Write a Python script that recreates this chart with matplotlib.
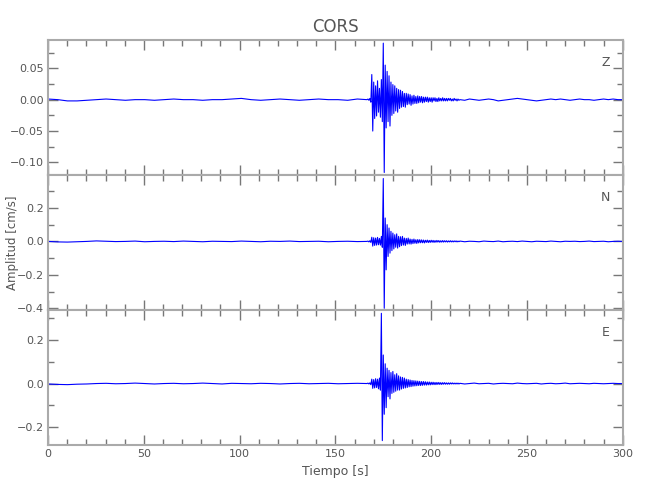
import numpy as np
import matplotlib.pyplot as plt
from matplotlib.ticker import MultipleLocator, FuncFormatter

# --- datos leidos del sismograma (cm/s) ---
# tramo previo (0-166.5 s), evento (167-214.5 s cada 0.5 s), tramo final (215-300 s)
z_pre = [0.001, 0.000, -0.002, -0.002, -0.001, 0.000, 0.001, 0.000, -0.001, 0.000,
         0.000, -0.001, 0.000, 0.001, 0.000, 0.000, -0.001, 0.000, 0.000, 0.001,
         0.002, 0.000, -0.001, 0.000, 0.001, 0.000, -0.001, 0.000, 0.001, 0.000,
         0.000, -0.001, 0.001, 0.000]
z_evt = [0.001, -0.001, 0.002, -0.004, 0.040, -0.050, 0.028, -0.030, 0.022, -0.026,
         0.030, -0.020, 0.018, -0.028, 0.032, -0.035, 0.090, -0.116, 0.055, -0.045,
         0.045, -0.035, 0.038, -0.042, 0.028, -0.025, 0.024, -0.022, 0.022, -0.018,
         0.018, -0.020, 0.016, -0.014, 0.015, -0.012, 0.013, -0.011, 0.010, -0.012,
         0.010, -0.008, 0.009, -0.007, 0.008, -0.009, 0.006, -0.007, 0.007, -0.006,
         0.005, -0.006, 0.006, -0.005, 0.005, -0.004, 0.005, -0.005, 0.004, -0.004,
         0.004, -0.003, 0.004, -0.004, 0.003, -0.003, 0.003, -0.004, 0.003, -0.002,
         0.003, -0.003, 0.002, -0.003, 0.003, -0.002, 0.002, -0.002, 0.003, -0.002,
         0.002, -0.002, 0.002, -0.002, 0.002, -0.001, 0.002, -0.002, 0.001, -0.002,
         0.002, -0.001, 0.001, -0.002, 0.001, -0.001]
z_post = [0.000, -0.001, 0.001, 0.000, -0.001, 0.000, 0.001, 0.000, -0.002, -0.001,
          0.000, 0.001, 0.002, 0.001, 0.000, -0.001, -0.002, -0.001, 0.000, 0.001,
          0.000, 0.001, 0.000, -0.001, 0.000, 0.001, 0.000, 0.000, -0.001, 0.000,
          0.001, 0.000, 0.001, 0.000, 0.000]

n_pre = [0.000, -0.003, -0.004, -0.002, 0.000, 0.003, 0.001, -0.001, 0.000, 0.002,
         -0.002, 0.000, 0.001, -0.001, 0.002, 0.000, -0.002, 0.001, 0.000, -0.001,
         0.002, 0.000, -0.002, 0.001, 0.000, 0.002, -0.001, 0.000, 0.001, -0.002,
         0.000, 0.001, -0.001, 0.000]
n_evt = [0.002, -0.003, 0.004, -0.006, 0.025, -0.028, 0.022, -0.024, 0.020, -0.022,
         0.024, -0.020, 0.018, -0.022, 0.030, -0.035, 0.376, -0.400, 0.140, -0.170,
         0.100, -0.090, 0.080, -0.070, 0.060, -0.055, 0.050, -0.045, 0.040, -0.035,
         0.045, -0.040, 0.030, -0.032, 0.028, -0.025, 0.030, -0.022, 0.020, -0.024,
         0.018, -0.016, 0.020, -0.015, 0.014, -0.016, 0.012, -0.013, 0.014, -0.011,
         0.010, -0.012, 0.011, -0.009, 0.010, -0.008, 0.009, -0.008, 0.008, -0.009,
         0.007, -0.006, 0.008, -0.007, 0.006, -0.006, 0.007, -0.005, 0.006, -0.006,
         0.005, -0.005, 0.006, -0.004, 0.005, -0.005, 0.004, -0.004, 0.005, -0.004,
         0.004, -0.003, 0.004, -0.004, 0.003, -0.003, 0.004, -0.003, 0.003, -0.003,
         0.003, -0.002, 0.003, -0.003, 0.002, -0.002]
n_post = [0.002, -0.002, 0.001, 0.000, -0.002, 0.002, 0.000, -0.001, 0.002, -0.002,
          0.000, 0.001, -0.001, 0.002, 0.000, -0.002, 0.001, 0.000, -0.001, 0.002,
          0.000, -0.002, 0.001, 0.000, 0.001, -0.001, 0.000, 0.002, -0.001, 0.000,
          0.001, -0.002, 0.000, 0.001, 0.000]

e_pre = [-0.002, -0.004, -0.005, -0.003, -0.002, 0.000, 0.001, -0.001, 0.000, 0.002,
         0.000, -0.002, 0.000, 0.001, -0.001, 0.000, 0.002, 0.000, -0.002, 0.001,
         0.000, -0.001, 0.001, 0.000, -0.002, 0.000, 0.001, -0.001, 0.000, 0.001,
         -0.001, 0.000, 0.001, 0.000]
e_evt = [0.002, -0.002, 0.003, -0.005, 0.020, -0.022, 0.018, -0.020, 0.022, -0.018,
         0.020, -0.024, 0.025, -0.030, 0.320, -0.260, 0.130, -0.140, 0.090, -0.110,
         0.070, -0.060, 0.060, -0.070, 0.050, -0.045, 0.055, -0.040, 0.040, -0.035,
         0.045, -0.030, 0.035, -0.030, 0.030, -0.025, 0.028, -0.022, 0.025, -0.020,
         0.020, -0.018, 0.018, -0.015, 0.016, -0.014, 0.014, -0.012, 0.013, -0.011,
         0.012, -0.010, 0.011, -0.009, 0.010, -0.009, 0.009, -0.008, 0.009, -0.007,
         0.008, -0.007, 0.007, -0.006, 0.007, -0.006, 0.006, -0.005, 0.006, -0.005,
         0.005, -0.005, 0.005, -0.004, 0.005, -0.004, 0.004, -0.004, 0.004, -0.003,
         0.004, -0.003, 0.003, -0.003, 0.003, -0.003, 0.003, -0.002, 0.003, -0.002,
         0.002, -0.002, 0.002, -0.002, 0.002, -0.002]
e_post = [0.001, -0.002, 0.000, 0.002, -0.001, 0.000, 0.001, -0.002, 0.000, 0.001,
          0.000, -0.001, 0.002, 0.000, -0.001, 0.000, 0.001, -0.002, 0.000, 0.001,
          -0.001, 0.000, 0.002, -0.001, 0.000, 0.001, 0.000, -0.001, 0.001, 0.000,
          -0.001, 0.000, 0.001, 0.000, 0.000]

componentes = ["Z", "N", "E"]
trazas = [(z_pre, z_evt, z_post), (n_pre, n_evt, n_post), (e_pre, e_evt, e_post)]
limites = [(-0.12, 0.095), (-0.41, 0.397), (-0.28, 0.335)]
paso_y = [(0.05, 0.025), (0.2, 0.1), (0.2, 0.1)]
decimales = [2, 1, 1]


def tiempos(pre, evt, post):
    t1 = np.linspace(0, 166.5, len(pre))
    t2 = 167 + 0.5 * np.arange(len(evt))
    t3 = np.linspace(215, 300, len(post))
    return np.concatenate([t1, t2, t3]), np.concatenate([pre, evt, post])


def formato(d):
    return FuncFormatter(lambda v, p: f"{v:.{d}f}".replace("-", "\u2212"))


gris = "#555555"
plt.rcParams["font.family"] = ["DejaVu Sans"]

fig, axs = plt.subplots(3, 1, figsize=(6.5, 5), dpi=100, sharex=True)
plt.subplots_adjust(left=0.074, right=0.958, top=0.92, bottom=0.11, hspace=0)

for ax, comp, tr, lim, py, d in zip(axs, componentes, trazas, limites, paso_y, decimales):
    t, a = tiempos(*tr)
    ax.plot(t, a, color="#0000ff", lw=0.8)
    ax.set_xlim(0, 300)
    ax.set_ylim(*lim)
    ax.xaxis.set_major_locator(MultipleLocator(50))
    ax.xaxis.set_minor_locator(MultipleLocator(10))
    ax.yaxis.set_major_locator(MultipleLocator(py[0]))
    ax.yaxis.set_minor_locator(MultipleLocator(py[1]))
    ax.yaxis.set_major_formatter(formato(d))
    ax.tick_params(which="both", direction="in", top=True, right=True,
                   color="#777777", labelcolor=gris, labelsize=8, pad=3)
    ax.tick_params(which="major", length=7, width=1)
    ax.tick_params(which="minor", length=4, width=1)
    for s in ax.spines.values():
        s.set_color("#aaaaaa")
        s.set_linewidth(1.5)
    ax.text(0.97, 0.83, comp, transform=ax.transAxes, ha="center", va="center",
            color=gris, fontsize=9)

axs[1].set_ylabel("Amplitud [cm/s]", color=gris, fontsize=8.5)
axs[1].yaxis.set_label_coords(-0.05, 0.5)
axs[2].set_xlabel("Tiempo [s]", color=gris, fontsize=9)
axs[0].set_title("CORS", color=gris, fontsize=12)

plt.savefig("out.png", dpi=100)
